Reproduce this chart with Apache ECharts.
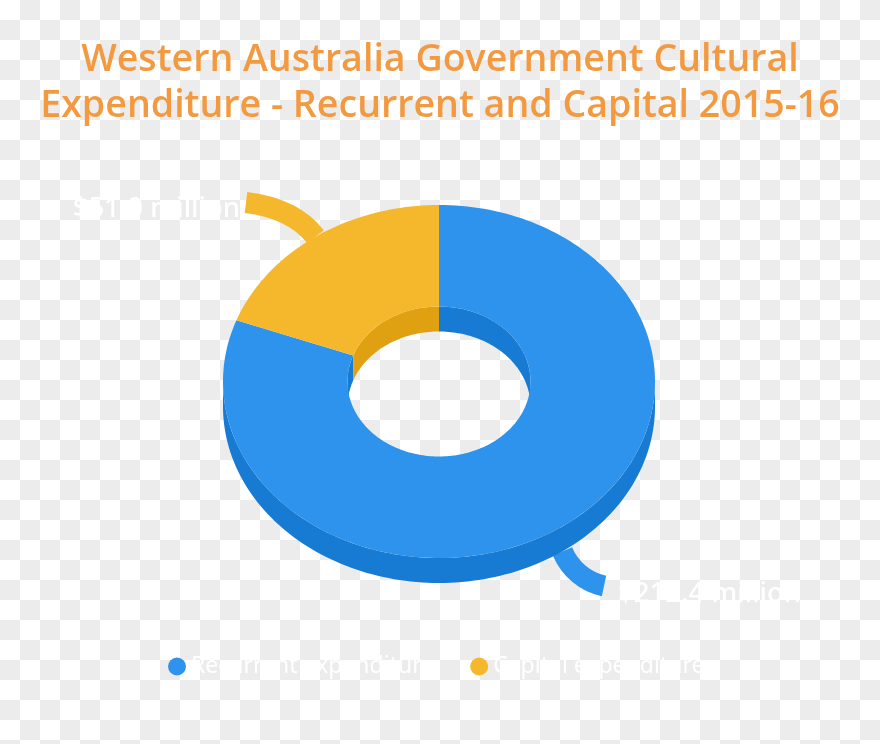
<!DOCTYPE html>
<html>
<head>
<meta charset="utf-8">
<script src="https://cdn.jsdelivr.net/npm/echarts@6/dist/echarts.min.js"></script>
<style>
html,body{margin:0;padding:0;width:880px;height:744px;overflow:hidden}
body{background:conic-gradient(#ececec 25%,#fff 0 50%,#ececec 0 75%,#fff 0) 0 0/40px 40px}
#c{width:880px;height:744px}
</style>
</head>
<body>
<div id="c"></div>
<script>
const titleLines = ['Western Australia Government Cultural', 'Expenditure - Recurrent and Capital 2015-16'];
const categories = ['Recurrent expenditure', 'Capital expenditure'];
const values = [212.4, 51.0];
const valueLabels = ['$212.4 million', '$51.0 million'];
const topColors = ['#2e93ec', '#f5b82d'];
const wallColors = ['#177bd3', '#dfa112'];

const total = values[0] + values[1];
const geo = {cx: 439, cy: 381.5, rx: 216, ry: 176.5, irx: 91.5, iry: 75, depth: 25};
// Capital slice runs anticlockwise from 12 o'clock; recurrent takes the remainder.
const ranges = [
  [values[1] / total * 360, 360],
  [0, values[1] / total * 360]
];
function pt(rx, ry, deg, dy) {
  const a = deg * Math.PI / 180;
  return [geo.cx - rx * Math.sin(a), geo.cy - ry * Math.cos(a) + (dy || 0)];
}
function arc(rx, ry, a0, a1, dy) {
  const n = Math.max(2, Math.ceil(Math.abs(a1 - a0) / 1.5)), out = [];
  for (let i = 0; i <= n; i++) out.push(pt(rx, ry, a0 + (a1 - a0) * i / n, dy));
  return out;
}
function band(rx, ry, a0, a1) {
  return arc(rx, ry, a0, a1, 0).concat(arc(rx, ry, a1, a0, geo.depth));
}
function renderSlice(idx) {
  return function () {
    const [a0, a1] = ranges[idx];
    const mid = (a0 + a1) / 2;
    const children = [];
    const frontFace = mid > 90 && mid < 270;
    const anchor = pt(geo.rx, geo.ry, mid, frontFace ? geo.depth : 0);
    const lead = idx === 0
      ? {ex: 604, ey: 586, c1x: 570, c1y: 569, c2x: 585, c2y: 582, tx: 618, ty: 594, align: 'left'}
      : {ex: 246, ey: 202.5, c1x: 300, c1y: 217, c2x: 275, c2y: 206, tx: 240, ty: 209, align: 'right'};
    children.push({
      type: 'bezierCurve',
      shape: {x1: anchor[0], y1: anchor[1], cpx1: lead.c1x, cpy1: lead.c1y, cpx2: lead.c2x, cpy2: lead.c2y, x2: lead.ex, y2: lead.ey},
      style: {stroke: topColors[idx], lineWidth: 21, fill: null, lineCap: 'butt'}
    });
    // outer wall: lower half of the rim (90..270)
    const o0 = Math.max(a0, 90), o1 = Math.min(a1, 270);
    if (o1 > o0) children.push({type: 'polygon', shape: {points: band(geo.rx, geo.ry, o0, o1)}, style: {fill: wallColors[idx]}});
    // inner wall: upper half of the hole (0..90 and 270..360)
    [[0, 90], [270, 360]].forEach(function (r) {
      const i0 = Math.max(a0, r[0]), i1 = Math.min(a1, r[1]);
      if (i1 > i0) children.push({type: 'polygon', shape: {points: band(geo.irx, geo.iry, i0, i1)}, style: {fill: wallColors[idx]}});
    });
    // top face
    children.push({
      type: 'polygon',
      shape: {points: arc(geo.rx, geo.ry, a0, a1).concat(arc(geo.irx, geo.iry, a1, a0))},
      style: {fill: topColors[idx]}
    });
    children.push({
      type: 'text',
      style: {
        x: lead.tx, y: lead.ty, text: valueLabels[idx], fill: '#ffffff',
        font: '500 27.5px "Noto Sans"', align: lead.align, verticalAlign: 'middle'
      }
    });
    return {type: 'group', children: children};
  };
}
const chart = echarts.init(document.getElementById('c'), null, {renderer: 'canvas'});
chart.setOption({
  animation: false,
  backgroundColor: 'transparent',
  title: {
    text: titleLines.join('\n'),
    left: 'center', top: 32,
    textStyle: {color: '#f39a41', fontFamily: 'Open Sans', fontWeight: 600, fontSize: 37.6, lineHeight: 46}
  },
  legend: {
    data: categories, left: 163, top: 650, icon: 'circle', itemWidth: 18, itemHeight: 18, itemGap: 36,
    selectedMode: false,
    textStyle: {color: '#ffffff', fontFamily: 'Noto Sans', fontSize: 23}
  },
  series: categories.map(function (name, i) {
    return {
      type: 'custom', name: name, coordinateSystem: 'none', silent: true,
      itemStyle: {color: topColors[i]},
      data: [[values[i]]],
      renderItem: renderSlice(i)
    };
  })
});
</script>
</body>
</html>
